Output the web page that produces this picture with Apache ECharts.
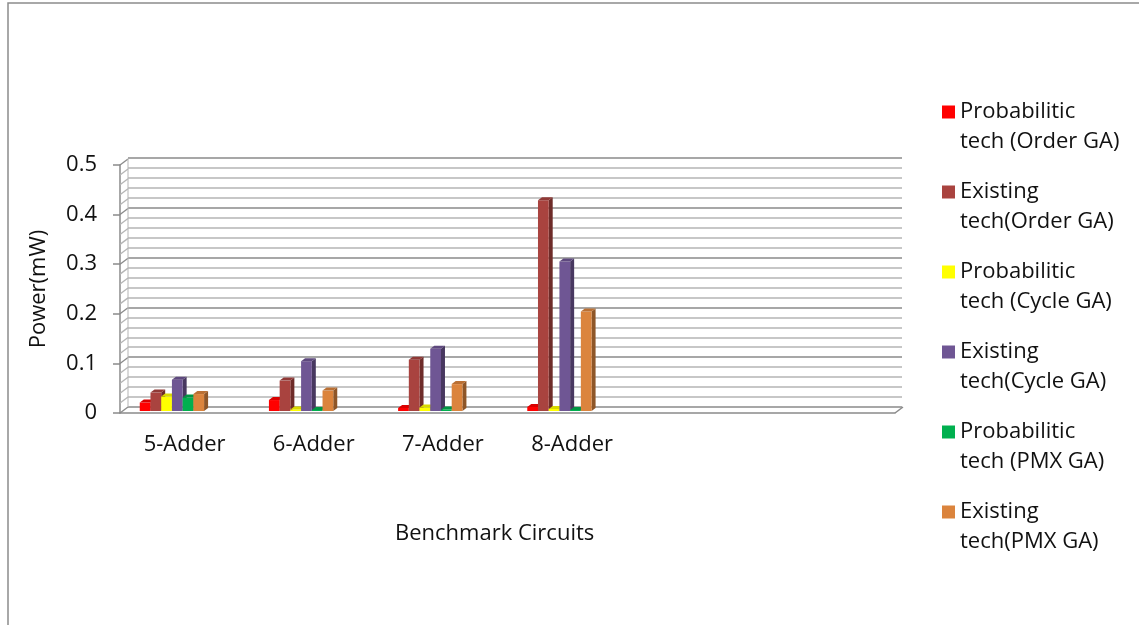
<!DOCTYPE html>
<html>
<head>
<meta charset="utf-8">
<script src="https://cdn.jsdelivr.net/npm/echarts@6/dist/echarts.min.js"></script>
<style>
html,body{margin:0;padding:0;background:#fff;}
#chart{width:1139px;height:625px;}
</style>
</head>
<body>
<div id="chart"></div>
<script>
// ---- data ----
var categories = ['5-Adder', '6-Adder', '7-Adder', '8-Adder', '', ''];
var seriesNames = [
  'Probabilitic tech (Order GA)',
  'Existing tech(Order GA)',
  'Probabilitic tech (Cycle GA)',
  'Existing tech(Cycle GA)',
  'Probabilitic tech (PMX GA)',
  'Existing tech(PMX GA)'
];
var probOrder  = [0.017, 0.022, 0.006, 0.008];
var existOrder = [0.037, 0.061, 0.103, 0.423];
var probCycle  = [0.029, 0.003, 0.007, 0.004];
var existCycle = [0.063, 0.100, 0.125, 0.300];
var probPMX    = [0.027, 0.002, 0.003, 0.002];
var existPMX   = [0.034, 0.041, 0.054, 0.200];
var yTickLabels = ['0', '0.1', '0.2', '0.3', '0.4', '0.5'];

var seriesValues = [probOrder, existOrder, probCycle, existCycle, probPMX, existPMX];
var colors = ['#FF0000', '#A9433F', '#FFFF00', '#6F5694', '#00B04F', '#DB843D'];

var FONT = 'Open Sans';
var FS = 22;

function shade(hex, f) {
  var r = parseInt(hex.substr(1, 2), 16), g = parseInt(hex.substr(3, 2), 16), b = parseInt(hex.substr(5, 2), 16);
  function c(v) { v = f >= 0 ? v + (255 - v) * f : v * (1 + f); return Math.max(0, Math.min(255, Math.round(v))); }
  return 'rgb(' + c(r) + ',' + c(g) + ',' + c(b) + ')';
}

function barRenderer(si) {
  return function (params, api) {
    var cat = api.value(0), v = api.value(1);
    var base = api.coord([cat, 0]);
    var top = api.coord([cat, v]);
    var band = api.size([1, 0])[0];
    var w = band * 0.083;
    var dx = 4, dy = 3;
    var x = base[0] - band * 0.098 - 3 * w + si * w;
    var yb = base[1], yt = top[1];
    var col = colors[si];
    return {
      type: 'group',
      children: [
        { type: 'polygon', shape: { points: [[x + w, yt], [x + w + dx, yt - dy], [x + w + dx, yb - dy], [x + w, yb]] },
          style: { fill: shade(col, -0.35) } },
        { type: 'rect', shape: { x: x, y: yt, width: w, height: yb - yt },
          style: { fill: col } },
        { type: 'polygon', shape: { points: [[x, yt], [x + dx, yt - dy], [x + w + dx, yt - dy], [x + w, yt]] },
          style: { fill: shade(col, -0.15) } }
      ]
    };
  };
}

function wallRenderer(params, api) {
  var cs = params.coordSys;
  var children = [];
  var dx = 8, dy = -6;
  for (var k = 0; k <= 25; k++) {
    var p = api.coord([0, k * 0.02]);
    var major = (k % 5 === 0);
    children.push({
      type: 'line',
      shape: { x1: cs.x, y1: p[1], x2: cs.x + dx, y2: p[1] + dy },
      style: { stroke: major ? '#8a8a8a' : '#b5b5b5', lineWidth: 1.3 }
    });
  }
  var yb = api.coord([0, 0])[1];
  var yt = api.coord([0, 0.5])[1];
  children.push({ type: 'line', shape: { x1: cs.x + dx, y1: yt + dy, x2: cs.x + dx, y2: yb + dy }, style: { stroke: '#b5b5b5', lineWidth: 1 } });
  children.push({ type: 'line', shape: { x1: cs.x + cs.width, y1: yb, x2: cs.x + cs.width + dx, y2: yb + dy }, style: { stroke: '#8a8a8a', lineWidth: 1.5 } });
  return { type: 'group', children: children };
}

var series = [];
series.push({
  type: 'custom', name: '_wall', xAxisIndex: 1, yAxisIndex: 1, silent: true, z: 1,
  renderItem: wallRenderer, data: [[0, 0]]
});
for (var i = 0; i < seriesNames.length; i++) {
  series.push({
    type: 'custom',
    name: seriesNames[i],
    xAxisIndex: 2, yAxisIndex: 2,
    z: 3,
    itemStyle: { color: colors[i] },
    renderItem: barRenderer(i),
    data: seriesValues[i].map(function (v, j) { return [j, v]; })
  });
}

var chart = echarts.init(document.getElementById('chart'), null, { renderer: 'canvas' });
chart.setOption({
  animation: false,
  backgroundColor: '#ffffff',
  textStyle: { fontFamily: FONT },
  title: {
    text: 'Benchmark Circuits', left: 390, top: 518,
    textStyle: { fontFamily: FONT, fontSize: FS, fontWeight: 'normal', color: '#111' }
  },
  legend: {
    orient: 'vertical', left: 937, top: 62,
    itemWidth: 13, itemHeight: 13, itemGap: -10,
    icon: 'rect',
    data: seriesNames,
    selectedMode: false,
    formatter: function (name) { return '\n' + name.replace(' ', '\n'); },
    textStyle: { fontFamily: FONT, fontSize: FS, lineHeight: 30, color: '#111' }
  },
  graphic: [
    { type: 'polyline', shape: { points: [[8, 625], [8, 3], [1139, 3]] }, style: { stroke: '#8c8c8c', lineWidth: 1.5, fill: null }, silent: true }
  ],
  grid: [
    { left: 128, right: 237, top: 158, bottom: 218 },
    { left: 120, right: 244, top: 165, bottom: 212 },
    { left: 120, right: 244, top: 162, bottom: 214 }
  ],
  xAxis: [
    { type: 'category', gridIndex: 0, data: categories, show: false },
    { type: 'category', gridIndex: 1, data: categories,
      axisLine: { lineStyle: { color: '#8a8a8a', width: 1.5 } }, axisTick: { show: false },
      axisLabel: { fontFamily: FONT, fontSize: FS, color: '#111', margin: 21, interval: 0 } },
    { type: 'category', gridIndex: 2, data: categories, show: false }
  ],
  yAxis: [
    { type: 'value', gridIndex: 0, min: 0, max: 0.5, interval: 0.1,
      axisLine: { show: false }, axisTick: { show: false }, axisLabel: { show: false },
      splitLine: { lineStyle: { color: '#8a8a8a', width: 1.6 } },
      minorTick: { show: false, splitNumber: 5 },
      minorSplitLine: { show: true, lineStyle: { color: '#b5b5b5', width: 1.5 } } },
    { type: 'value', gridIndex: 1, min: 0, max: 0.5, interval: 0.1,
      name: 'Power(mW)', nameLocation: 'middle', nameGap: 70,
      nameTextStyle: { fontFamily: FONT, fontSize: FS, color: '#111' },
      axisLine: { show: true, lineStyle: { color: '#8a8a8a', width: 1.5 } },
      axisTick: { show: true, length: 7, lineStyle: { color: '#8a8a8a', width: 1.5 } },
      splitLine: { show: false },
      axisLabel: { fontFamily: FONT, fontSize: FS, color: '#111', margin: 23,
        formatter: function (v) { return yTickLabels[Math.round(v * 10)]; } } },
    { type: 'value', gridIndex: 2, min: 0, max: 0.5, show: false, splitLine: { show: false } }
  ],
  series: series
});
</script>
</body>
</html>
